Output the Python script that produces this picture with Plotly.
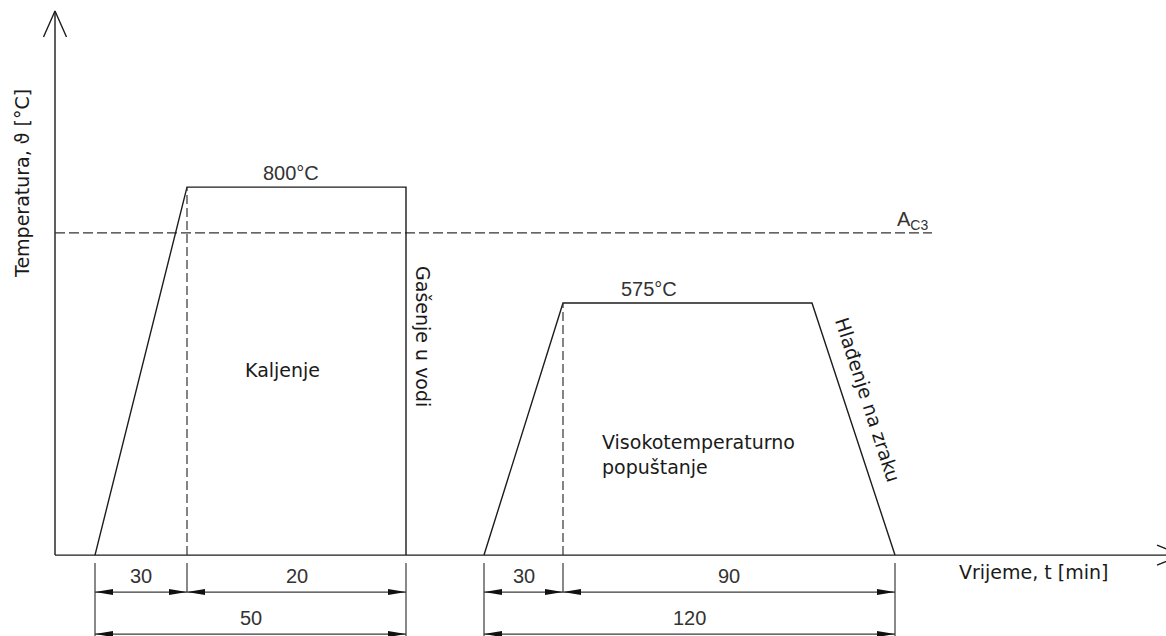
import plotly.graph_objects as go

# ---- process data -------------------------------------------------------
T_START = 86            # temperature level of the time axis (schematic)
AC3 = 711               # Ac3 critical temperature line (schematic)
hardening_temp = 800    # Kaljenje
tempering_temp = 575    # Visokotemperaturno popuštanje

hardening_durations = [30, 20]     # heating, soaking [min]
hardening_total = 50
tempering_durations = [30, 90]     # heating, soaking + air cooling [min]
tempering_total = 120

# node positions along the schematic (not to scale) time axis
hardening_x = [40, 132, 351]          # start, end of heating, quench
tempering_x = [429, 508, 757, 840]    # start, end of heating, end of soak, end of cooling
ac3_end_x = 877

# ---- drawing frame ------------------------------------------------------
W, H = 1166, 636
X_RANGE = [-55, 1111]
Y_RANGE = [-71, 1163]
PX_PER_DEG = H / (Y_RANGE[1] - Y_RANGE[0])


def deg(px):
    """vertical pixel distance -> degrees on the temperature axis"""
    return px / PX_PER_DEG


def paper_below_axis(px):
    """paper y of a point px pixels below the time axis"""
    axis_px = (Y_RANGE[1] - T_START) * PX_PER_DEG
    return 1 - (axis_px + px) / H


INK = "#1c1c1c"
DIM = "#3a3a3a"
LBL_FONT = dict(family="DejaVu Sans", size=19, color="#1a1a1a")
TECH_FONT = dict(family="Liberation Sans", size=20, color="#333333")

fig = go.Figure()


def line(x, y, width=1.4, dash=None, color=INK):
    fig.add_trace(go.Scatter(x=x, y=y, mode="lines", hoverinfo="skip",
                             line=dict(color=color, width=width, dash=dash)))


# axes with open arrow heads
y_top = Y_RANGE[1] - deg(11)
line([0, 0], [T_START, y_top])
line([-11.5, 0, 11.5], [y_top - deg(26), y_top, y_top - deg(26)])
x_tip = X_RANGE[1] + 16
line([0, x_tip], [T_START, T_START])
line([x_tip - 25, x_tip, x_tip - 25], [T_START + deg(10), T_START, T_START - deg(10)])

# Ac3 line
line([0, ac3_end_x], [AC3, AC3], width=1.2, dash="10px,4px", color="#333")

# hardening cycle
h0, h1, h2 = hardening_x
line([h0, h1, h2, h2], [T_START, hardening_temp, hardening_temp, T_START])
line([h1, h1], [T_START, hardening_temp], width=1.2, dash="9px,4px", color="#333")

# tempering cycle
t0, t1, t2, t3 = tempering_x
line([t0, t1, t2, t3], [T_START, tempering_temp, tempering_temp, T_START])
line([t1, t1], [T_START, tempering_temp], width=1.2, dash="9px,4px", color="#333")

# ---- dimension chains -----------------------------------------------------
shapes = []
ext_top = paper_below_axis(8)
row1 = paper_below_axis(37)
row2 = paper_below_axis(79)
AH_LEN = 18
AH_HALF = 3 / H


def seg(x0, y0, x1, y1):
    shapes.append(dict(type="line", xref="x", yref="paper", x0=x0, y0=y0,
                       x1=x1, y1=y1, line=dict(color=DIM, width=1.2)))


def head(x_tip, y, direction):
    xb = x_tip - direction * AH_LEN
    shapes.append(dict(type="path", xref="x", yref="paper",
                       path=f"M {x_tip},{y} L {xb},{y + AH_HALF} L {xb},{y - AH_HALF} Z",
                       fillcolor="#111", line=dict(width=0)))


def dimension(xa, xb, y, text):
    seg(xa, y, xb, y)
    head(xa, y, -1)
    head(xb, y, 1)
    fig.add_annotation(x=(xa + xb) / 2, y=y, xref="x", yref="paper", text=text,
                       showarrow=False, yanchor="bottom", yshift=3, font=TECH_FONT)


def chain(xs, parts, total):
    a, b, c = xs
    seg(a, ext_top, a, 0)
    seg(b, ext_top, b, row1)
    seg(c, ext_top, c, 0)
    dimension(a, b, row1, str(parts[0]))
    dimension(b, c, row1, str(parts[1]))
    dimension(a, c, row2, str(total))


chain([h0, h1, h2], hardening_durations, hardening_total)
chain([t0, t1, t3], tempering_durations, tempering_total)

# ---- labels -------------------------------------------------------------
fig.add_annotation(x=236, y=hardening_temp, text=f"{hardening_temp}°C", showarrow=False,
                   yanchor="bottom", yshift=1, font=TECH_FONT)
fig.add_annotation(x=594, y=tempering_temp, text=f"{tempering_temp}°C", showarrow=False,
                   yanchor="bottom", yshift=1, font=TECH_FONT)
fig.add_annotation(x=840, y=AC3, text="A<sub>C3</sub>", showarrow=False,
                   xanchor="left", yanchor="bottom", yshift=-2, font=TECH_FONT)
fig.add_annotation(x=227, y=445, text="Kaljenje", showarrow=False, font=LBL_FONT)
fig.add_annotation(x=368, y=511, text="Gašenje u vodi", textangle=90,
                   showarrow=False, font=LBL_FONT)
fig.add_annotation(x=813, y=387, text="Hlađenje na zraku", textangle=72,
                   showarrow=False, font=LBL_FONT)
fig.add_annotation(x=545, y=282, text="Visokotemperaturno<br>popuštanje", align="left",
                   xanchor="left", showarrow=False, font=LBL_FONT)
fig.add_annotation(x=978, y=53, text="Vrijeme, t [min]", showarrow=False, font=LBL_FONT)
fig.add_annotation(x=-33, y=806, text="Temperatura, ϑ [°C]", textangle=-90,
                   showarrow=False, font=LBL_FONT)

fig.update_layout(
    width=W, height=H, margin=dict(l=0, r=0, t=0, b=0),
    paper_bgcolor="white", plot_bgcolor="white", showlegend=False,
    xaxis=dict(range=X_RANGE, visible=False, fixedrange=True),
    yaxis=dict(range=Y_RANGE, visible=False, fixedrange=True),
    shapes=shapes,
)

fig.write_html("out.html")
